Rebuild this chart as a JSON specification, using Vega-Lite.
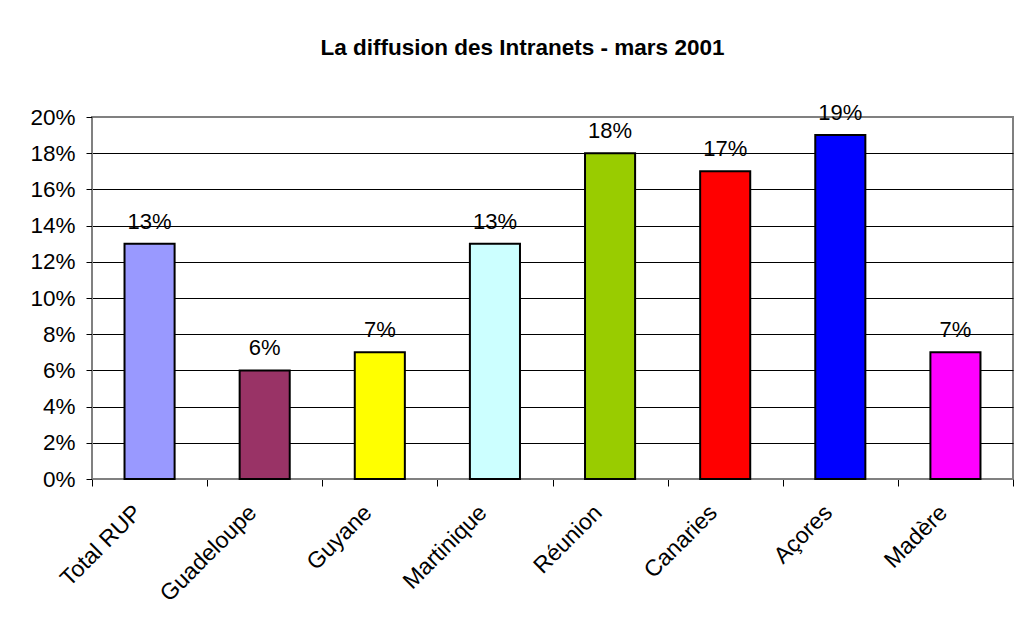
{
  "$schema": "https://vega.github.io/schema/vega-lite/v6.json",
  "autosize": {"type": "none"},
  "width": 921,
  "height": 362,
  "padding": {"left": 92, "top": 117, "right": 6, "bottom": 146},
  "background": "white",
  "title": {
    "text": "La diffusion des Intranets - mars 2001",
    "font": "Liberation Sans",
    "fontSize": 22.5,
    "fontWeight": "bold",
    "color": "black",
    "anchor": "middle",
    "frame": "group",
    "baseline": "alphabetic",
    "offset": 25,
    "dx": -30
  },
  "data": {
    "values": [
      {"region": "Total RUP", "value": 0.13, "color": "#9999FF"},
      {"region": "Guadeloupe", "value": 0.06, "color": "#993366"},
      {"region": "Guyane", "value": 0.07, "color": "#FFFF00"},
      {"region": "Martinique", "value": 0.13, "color": "#CCFFFF"},
      {"region": "Réunion", "value": 0.18, "color": "#99CC00"},
      {"region": "Canaries", "value": 0.17, "color": "#FF0000"},
      {"region": "Açores", "value": 0.19, "color": "#0000FF"},
      {"region": "Madère", "value": 0.07, "color": "#FF00FF"}
    ]
  },
  "encoding": {
    "x": {
      "field": "region",
      "type": "nominal",
      "sort": null,
      "scale": {"paddingInner": 0, "paddingOuter": 0},
      "axis": {
        "title": null,
        "labelAngle": -45,
        "labelAlign": "right",
        "labelBaseline": "top",
        "labelFont": "Liberation Sans",
        "labelFontSize": 23,
        "labelColor": "black",
        "labelOffset": -20,
        "labelPadding": 15,
        "ticks": true,
        "tickBand": "extent",
        "tickColor": "black",
        "tickSize": 7,
        "tickWidth": 1,
        "domainColor": "#808080",
        "grid": false
      }
    },
    "y": {
      "field": "value",
      "type": "quantitative",
      "scale": {"domain": [0, 0.2], "nice": false},
      "axis": {
        "title": null,
        "format": ".0%",
        "values": [0, 0.02, 0.04, 0.06, 0.08, 0.1, 0.12, 0.14, 0.16, 0.18, 0.2],
        "labelFont": "Liberation Sans",
        "labelFontSize": 22.5,
        "labelColor": "black",
        "labelPadding": 11,
        "labelBaseline": "middle",
        "tickColor": "black",
        "tickSize": 6,
        "domainColor": "#808080",
        "grid": true,
        "gridColor": {"condition": {"test": "datum.value >= 0.2 || datum.value <= 0", "value": "#808080"}, "value": "black"},
        "gridOpacity": 1,
        "gridWidth": 1
      }
    }
  },
  "layer": [
    {
      "mark": {"type": "bar", "stroke": "black", "strokeWidth": 2, "width": {"band": 0.435}},
      "encoding": {
        "color": {"field": "color", "type": "nominal", "scale": null}
      }
    },
    {
      "mark": {"type": "text", "font": "Liberation Sans", "fontSize": 22, "color": "black", "baseline": "alphabetic", "dy": -15},
      "encoding": {
        "text": {"field": "value", "type": "quantitative", "format": ".0%"}
      }
    }
  ],
  "config": {
    "view": {"stroke": "#808080", "strokeWidth": 2}
  }
}
